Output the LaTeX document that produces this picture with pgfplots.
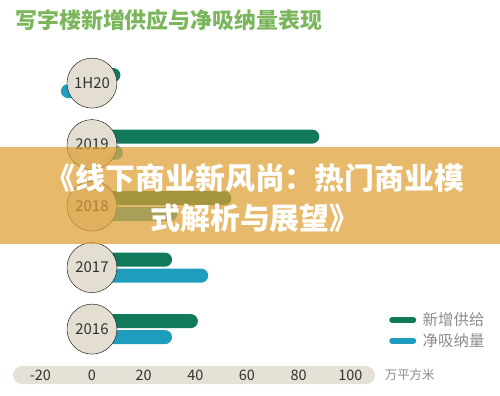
\documentclass[border=0pt]{standalone}
\usepackage{pgfplots}
\pgfplotsset{compat=1.18}
\usepackage{pgfplotstable}
\usepackage{fontspec}
\setmainfont{Noto Sans CJK SC}
\definecolor{dgreen}{RGB}{18,122,92}
\definecolor{teal2}{RGB}{31,157,188}
\definecolor{circ}{RGB}{228,222,210}
\definecolor{band}{RGB}{230,225,214}
\definecolor{titlec}{RGB}{123,182,92}
\definecolor{legc}{RGB}{140,140,140}
\definecolor{banner}{RGB}{222,160,50}
\pgfplotstableread{
y label supply absorb
4 1H20 11 -12
3 2019 88 12
2 2018 54 33
1 2017 31 45
0 2016 41 31
}\datatable
\begin{document}
\begin{tikzpicture}
\fill[band, rounded corners=9bp] (13bp,11bp) rectangle (375bp,29bp);
\begin{axis}[
  at={(0bp,0bp)}, anchor=south west,
  scale only axis, width=500bp, height=395bp,
  xmin=-35.6, xmax=157.95, ymin=-1.073, ymax=5.35,
  axis line style={draw=none}, ytick=\empty,
  xtick={-20,0,20,40,60,80,100}, major tick length=0pt,
  /pgf/number format/assume math mode=true,
  xticklabel style={anchor=center, yshift=20bp, font=\fontsize{14.5}{14.5}\selectfont, text=black!80},
  axis on top,
  clip=false,
  legend style={at={(rel axis cs:0.778,0.214)}, anchor=north west, draw=none, fill=none,
    font=\fontsize{15.5}{16}\selectfont, text=legc, row sep=2bp, inner sep=0pt,
    nodes={inner xsep=6.5bp}},
  legend cell align=left,
]
\node[anchor=west, text=legc, font=\fontsize{12.5}{13}\selectfont] at (axis cs:112,-0.747) {万平方米};
\node[anchor=west, text=titlec, font=\fontsize{22}{22}\bfseries\selectfont] at (axis cs:-31,5.02) {写字楼新增供应与净吸纳量表现};
\addplot[xbar, bar width=14bp, bar shift=8bp, fill=dgreen, draw=none, rounded corners=7bp,
  legend image code/.code={\draw[dgreen, line width=6bp, line cap=round] (0bp,0bp) -- (21bp,0bp);}]
  table[x=supply, y=y] {\datatable};
\addlegendentry{新增供给}
\addplot[xbar, bar width=14bp, bar shift=-8bp, fill=teal2, draw=none, rounded corners=7bp,
  legend image code/.code={\draw[teal2, line width=6bp, line cap=round] (0bp,0bp) -- (21bp,0bp);}]
  table[x=absorb, y=y] {\datatable};
\addlegendentry{净吸纳量}
\addplot[only marks, mark=*, mark size=25bp, mark options={fill=circ, draw=none},
  nodes near coords, point meta=explicit symbolic,
  nodes near coords style={anchor=center, font=\fontsize{15}{15}\selectfont, text=black!80}]
  table[x expr=0, y=y, meta=label] {\datatable};
\end{axis}
\fill[banner, opacity=0.72] (0bp,151bp) rectangle (500bp,248bp);
\node[align=center, text=white, font=\fontsize{30}{40}\bfseries\selectfont] at (255bp,197bp) {《线下商业新风尚：热门商业模\\式解析与展望》};
\end{tikzpicture}
\end{document}
